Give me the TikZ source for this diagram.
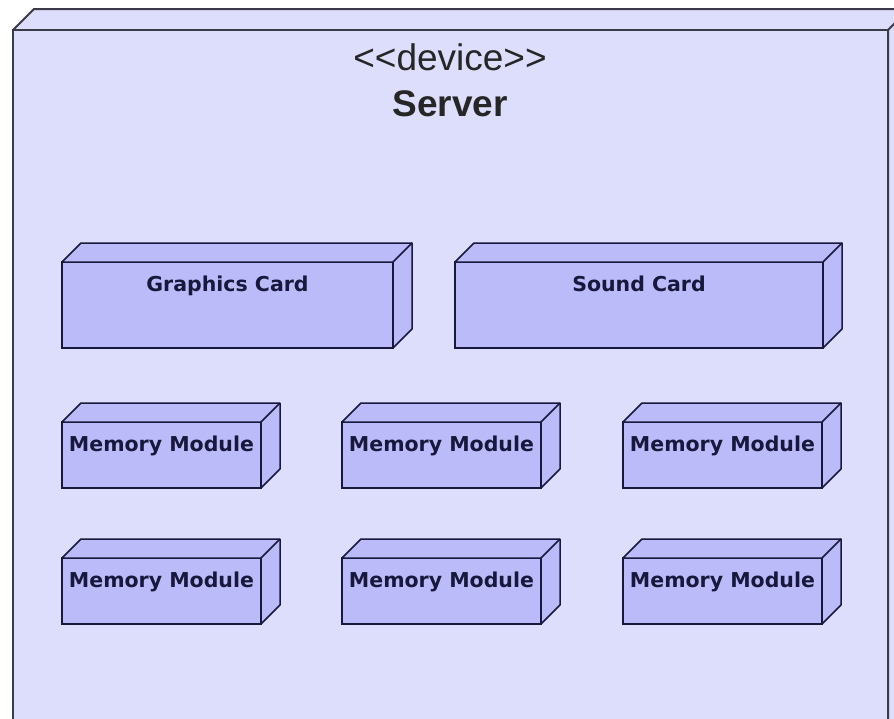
\documentclass[tikz,border=0pt]{standalone}
\usepackage{fontspec}
\setmainfont{Liberation Sans}
\newfontfamily\partfont{DejaVu Sans}
\usetikzlibrary{calc}
\definecolor{outerfill}{RGB}{221,221,252}
\definecolor{innerfill}{RGB}{187,187,250}
\definecolor{outerline}{RGB}{58,58,72}
\definecolor{innerline}{RGB}{24,24,60}
\tikzset{
  devicebox/.style={draw=outerline, fill=outerfill, line width=2pt, inner sep=0pt, outer sep=0pt},
  deviceface/.style={draw=outerline, fill=outerfill, line width=2pt, line join=round},
  partbox/.style={draw=innerline, fill=innerfill, line width=1.5pt, inner sep=0pt, outer sep=0pt},
  partface/.style={draw=innerline, fill=innerfill, line width=1.5pt, line join=round},
  cardbox/.style={partbox, minimum height=86pt},
  memorybox/.style={partbox, minimum width=199pt, minimum height=66pt},
  partlabel/.style={anchor=base, inner sep=0pt, font=\partfont\bfseries\fontsize{20.5}{24}\selectfont, text=innerline},
  headlabel/.style={font=\fontsize{37}{42}\selectfont, text=black!85},
}
% top and right faces of a box drawn behind the front face of node #1
\newcommand\depthfaces[3]{%
  \path[#3] (#1.north west) -- ++(#2,-#2) -- ($(#1.north east)+(#2,-#2)$)
    -- ($(#1.south east)+(#2,-#2)$) -- (#1.south east) -- (#1.north east) -- cycle;
  \path[#3] (#1.north east) -- ++(#2,-#2);
}
\begin{document}
\begin{tikzpicture}[x=1pt,y=-1pt]
  \useasboundingbox (0,0) rectangle (894,718);
  \clip (0,0) rectangle (894,718);
  \fill[white] (0,0) rectangle (894,718);

  % the server device
  \node[devicebox, minimum width=875pt, minimum height=730pt] (server) at (450.5,395) {};
  \depthfaces{server}{21}{deviceface}
  \node[devicebox, minimum width=875pt, minimum height=730pt] at (server) {};
  \node[headlabel] (stereo) at (450,57) {<\kern0pt<device>\kern0pt>};
  \node[headlabel, font=\bfseries\fontsize{37}{42}\selectfont] (title) at (450,104) {Server};

  % expansion cards
  \node[cardbox, minimum width=331pt] (gc) at (227.5,305) {};
  \depthfaces{gc}{19}{partface}
  \node[cardbox, minimum width=368pt] (sc) at (639,305) {};
  \depthfaces{sc}{19}{partface}
  \node[partlabel] (gclabel) at ($(gc.north)+(0,29)$) {Graphics Card};
  \node[partlabel] (sclabel) at ($(sc.north)+(0,29)$) {Sound Card};

  % memory modules, two rows of three
  \foreach \c/\x in {1/161.5, 2/441.5, 3/722.5}{
    \foreach \r/\y in {1/455, 2/591}{
      \node[memorybox] (mem\r\c) at (\x,\y) {};
      \depthfaces{mem\r\c}{19}{partface}
      \node[partlabel] (memlabel\r\c) at ($(mem\r\c.north)+(0,29)$) {Memory Module};
    }
  }
\end{tikzpicture}
\end{document}
